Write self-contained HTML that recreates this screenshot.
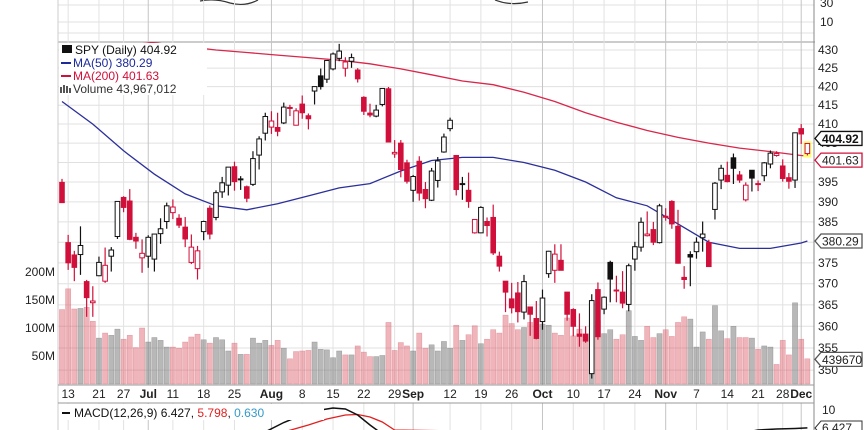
<!DOCTYPE html>
<html><head><meta charset="utf-8"><style>
html,body{margin:0;padding:0;background:#fff;}
svg{display:block;font-family:"Liberation Sans",sans-serif;}
</style></head><body>
<svg id="chart" width="864" height="430" viewBox="0 0 864 430"></svg>
<script>
const opens=[394.9,379.9,376.9,377.0,370.5,365.5,371.9,370.6,376.6,381.4,391.1,390.2,381.2,376.2,376.6,375.9,382.1,385.1,387.3,385.9,383.7,375.1,373.6,382.6,388.4,386.1,392.5,394.2,398.9,395.8,393.8,394.4,401.9,407.6,409.2,409.1,410.3,414.4,409.7,415.3,412.2,418.8,422.9,422.0,424.8,427.7,425.0,426.9,424.5,417.1,412.9,412.1,415.2,419.4,402.2,405.0,399.9,392.9,400.3,393.1,390.4,395.4,402.7,408.8,401.8,394.5,392.9,382.3,382.3,385.1,386.1,376.6,370.6,366.4,367.8,363.3,364.5,361.8,361.1,372.4,373.2,375.6,368.0,363.9,358.2,358.2,349.2,368.6,364.0,375.1,368.4,368.0,365.1,375.9,378.8,381.6,383.1,379.9,386.4,390.1,383.9,371.5,377.0,377.7,381.1,379.9,388.1,395.5,396.7,401.2,396.8,390.5,398.0,394.6,396.6,399.6,401.8,399.1,396.1,395.5,408.8,402.3];
const highs=[395.8,381.8,377.9,383.9,370.9,369.4,376.5,378.7,378.8,390.1,391.4,393.2,382.3,380.7,381.7,382.0,385.9,389.8,390.6,386.9,386.2,381.9,379.1,385.3,389.1,392.9,396.3,398.8,400.2,396.5,394.1,402.9,406.8,413.0,413.4,413.0,415.7,415.1,414.2,417.6,412.8,420.0,424.9,427.2,429.3,431.7,428.0,429.0,425.0,417.4,415.4,415.1,419.6,419.9,405.8,405.8,400.7,396.8,401.6,395.0,398.6,401.4,407.5,411.7,401.9,396.3,397.4,385.6,388.9,386.1,389.3,377.7,370.6,370.2,370.4,372.1,364.6,365.9,368.6,377.9,379.5,379.5,368.0,364.2,363.0,360.0,367.5,370.3,367.0,375.5,371.9,373.0,374.8,380.1,386.1,387.6,385.0,389.5,388.4,390.4,388.0,374.2,377.8,381.2,385.1,380.6,395.0,399.4,400.2,402.3,397.8,394.9,398.0,395.4,400.1,403.1,402.9,400.8,397.3,407.7,410.0,405.0];
const lows=[389.8,373.3,370.6,372.1,362.2,362.2,371.8,370.2,372.9,380.8,387.4,380.5,378.4,372.6,373.8,372.9,379.6,383.3,385.7,383.5,378.8,374.7,371.0,380.5,380.7,385.4,391.0,391.6,392.8,393.0,389.9,394.0,398.2,405.7,407.4,406.8,410.0,412.1,409.6,411.4,408.6,415.2,419.2,421.0,424.4,426.9,422.7,425.1,421.1,412.4,411.8,411.8,414.7,405.3,401.2,396.2,394.6,390.0,390.3,388.4,390.2,393.6,402.5,408.1,391.6,390.5,388.5,382.1,382.2,381.4,376.9,372.9,363.3,363.0,360.9,361.6,357.8,357.0,359.2,371.4,370.2,373.2,361.3,357.7,355.3,356.2,348.1,356.9,362.8,365.6,365.6,364.2,363.5,373.1,377.7,381.4,379.3,379.7,385.3,383.3,374.8,368.8,369.4,376.0,377.7,374.0,385.6,393.2,394.9,394.5,394.8,390.1,392.6,392.7,395.2,398.5,401.5,395.1,393.3,393.5,404.8,401.8];
const closes=[389.8,375.0,373.9,379.2,366.7,365.9,375.1,374.4,378.1,390.1,388.6,380.7,380.3,377.3,381.2,382.0,383.3,389.0,388.7,384.2,380.8,378.8,377.9,385.1,382.0,392.3,394.8,398.8,395.1,395.6,390.9,401.0,406.1,412.0,410.8,408.1,414.5,414.2,413.5,413.0,411.4,420.0,420.0,427.1,428.9,429.7,426.7,427.9,422.1,413.4,412.4,413.7,419.5,405.3,402.6,398.2,395.2,396.4,392.2,390.8,397.8,400.4,406.6,411.0,393.1,394.6,390.1,385.6,388.6,384.1,377.4,374.2,368.0,364.3,363.4,370.5,362.8,357.2,366.6,377.8,377.1,373.2,362.8,360.0,357.7,356.6,366.0,357.6,366.8,371.1,368.5,365.4,374.3,378.9,384.9,382.0,380.0,389.0,386.2,384.5,374.9,371.0,376.4,380.0,382.0,374.1,394.7,398.5,395.1,398.5,395.5,394.2,396.0,394.6,399.9,402.4,402.3,395.9,395.2,407.7,407.4,404.92];
const prevClose=401.1;
const volumes=[133,170,134,135,137,112,82,91,87,98,80,87,65,100,75,83,78,66,66,64,75,84,89,79,73,83,79,59,73,53,53,82,73,78,69,78,64,45,58,59,60,75,62,61,47,59,52,52,68,57,49,49,51,110,60,74,68,59,91,64,70,59,76,64,105,78,88,104,72,80,97,91,123,108,97,101,110,106,107,105,91,87,118,86,98,84,145,113,90,97,80,88,131,85,78,103,83,90,97,85,110,120,116,66,93,80,140,95,81,103,83,83,82,62,68,66,35,78,52,145,80,45];
const maIdx=[0,5,10,15,20,25,30,35,40,45,50,55,60,65,70,75,80,85,90,95,100,105,110,115,120,121];
const ma50=[416,410,403,397,392,389,388,389.5,391.5,393.5,394.6,397.8,400.5,401.3,401.3,400,398,395,391,389,384.5,380,378.5,378.5,379.8,380.29];
const ma200=[436,434.5,433,432,431,430,429.3,428.6,427.9,427.2,426.2,424.8,423.2,421.5,420.5,418.5,416,413,410.5,408.3,406.5,405,403.7,402.8,401.8,401.63];
const macdIdx=[32,36,39,42,44,46,48,50,52,110,113,116,119,121];
const macdVals=[5.0,7.5,9.0,10.0,10.4,10.2,9.0,7.0,5.2,5.3,6.0,6.2,6.3,6.427];
const sigIdx=[36,40,43,46,48,50,52,54,110,113,116,119,121];
const sigVals=[5.6,7.0,8.2,9.0,9.1,8.6,7.6,6.0,5.0,5.4,5.6,5.7,5.798];
const priceTicks=[430,425,420,415,410,405,400,395,390,385,380,375,370,365,360,355,350];
const volTicks=[200,150,100,50];
const volTickLabels=["200M","150M","100M","50M"];
const dateIdx=[1,6,10,14,18,23,28,34,39,44,49,54,57,63,68,73,78,83,88,93,98,103,108,113,117,120];
const dateLabels=["13","21","27","Jul","11","18","25","Aug","8","15","22","29","Sep","12","19","26","Oct","10","17","24","Nov","7","14","21","28","Dec"];
const monthFlags=[0,0,0,1,0,0,0,1,0,0,0,0,1,0,0,0,1,0,0,0,1,0,0,0,0,1];

const NS="http://www.w3.org/2000/svg";
const svgRoot=document.getElementById('chart');
const X0=58,X1=814;
function xs(i){return 62+i*6.16;}
function yp(p){return 50+Math.log(430/p)*1555;}
function yv(v){return 384-v*0.56;}
function ym(m){return 410+(10-m)*5;}
function mk(tag,attrs,parent){const e=document.createElementNS(NS,tag);for(const k in attrs)e.setAttribute(k,attrs[k]);(parent||svgRoot).appendChild(e);return e;}
function prevOf(i){return i>0?closes[i-1]:prevClose;}

const defs=mk('defs',{});
const cp=mk('clipPath',{id:'mainclip'},defs);mk('rect',{x:X0,y:42,width:X1-X0,height:343},cp);
const cp2=mk('clipPath',{id:'macdclip'},defs);mk('rect',{x:X0,y:403,width:X1-X0,height:27},cp2);

const topPanel=mk('g',{});


[5,22,33].forEach(y=>mk('line',{x1:X0,x2:X1,y1:y,y2:y,stroke:'#e2e2e2'},topPanel));
mk('path',{d:'M200,1 Q215,-2 230,3 Q245,7 258,0 M495,0 Q510,6 528,2',fill:'none',stroke:'#333','stroke-width':1.2},topPanel);
const t30=mk('text',{x:820,y:7,'font-size':12,fill:'#222'},topPanel);t30.textContent='30';
const t10=mk('text',{x:820,y:26,'font-size':12,fill:'#222'},topPanel);t10.textContent='10';
mk('line',{x1:X0,x2:X1+1,y1:42,y2:42,stroke:'#999'},topPanel);

const grid=mk('g',{});


priceTicks.forEach(p=>{mk('line',{x1:X0,x2:X1,y1:yp(p),y2:yp(p),stroke:'#e0e0e0'},grid);});
dateIdx.forEach((d,k)=>{const x=xs(d);const c=monthFlags[k]?'#c4c4c4':'#e2e2e2';
 mk('line',{x1:x,x2:x,y1:0,y2:42,stroke:c},grid);
 mk('line',{x1:x,x2:x,y1:42,y2:385,stroke:c},grid);
 mk('line',{x1:x,x2:x,y1:403,y2:430,stroke:c},grid);});
mk('line',{x1:X0,x2:X0,y1:0,y2:430,stroke:'#ccc'},grid);
mk('line',{x1:X1,x2:X1,y1:0,y2:430,stroke:'#888'},grid);
mk('line',{x1:X0,x2:X1,y1:385,y2:385,stroke:'#999'},grid);
mk('line',{x1:X0,x2:X1,y1:403,y2:403,stroke:'#999'},grid);

const vg=mk('g',{'clip-path':'url(#mainclip)'});


volumes.forEach((v,i)=>{const down=closes[i]<prevOf(i);
 const r=mk('rect',{x:xs(i)-2.6,y:yv(v),width:5.2,height:384-yv(v),fill:down?'rgba(220,90,105,0.45)':'rgba(125,125,125,0.55)',stroke:down?'rgba(210,90,100,0.5)':'rgba(120,120,120,0.6)','stroke-width':0.5},vg);
 
 });

function linePath(idx,vals,fy){return idx.map((d,k)=>(k?'L':'M')+xs(d).toFixed(1)+','+fy(vals[k]).toFixed(1)).join(' ');}
const m200=mk('path',{d:linePath(maIdx,ma200,yp),fill:'none',stroke:'#d9264a','stroke-width':1.3,'clip-path':'url(#mainclip)'});


const m50=mk('path',{d:linePath(maIdx,ma50,yp),fill:'none',stroke:'#2b2f9a','stroke-width':1.3,'clip-path':'url(#mainclip)'});



const cg=mk('g',{'clip-path':'url(#mainclip)'});


const lastI=closes.length-1;
mk('rect',{x:xs(lastI)-4,y:yp(highs[lastI])-2,width:8,height:yp(lows[lastI])-yp(highs[lastI])+4,fill:'#ffff70'},cg);
closes.forEach((c,i)=>{const o=opens[i];const down=c<prevOf(i);const col=down?'#d0103a':'#111';
 const g=mk('g',{},cg);
 
 
 const x=xs(i);
 mk('line',{x1:x,x2:x,y1:yp(highs[i]),y2:yp(lows[i]),stroke:col,'stroke-width':1.2},g);
 const yt=yp(Math.max(o,c)),yb=yp(Math.min(o,c));
 mk('rect',{x:x-2.3,y:yt,width:4.6,height:Math.max(1,yb-yt),fill:c>=o?'#fff':col,stroke:col,'stroke-width':1},g);});

const lg=mk('g',{});


mk('rect',{x:59,y:43,width:148,height:52,fill:'#fff'},lg);
const leg=[["SPY (Daily) 404.92","#111",54],["MA(50) 380.29","#1d2a9a",67],["MA(200) 401.63","#d0103a",80],["Volume 43,967,012","#333",93]];
leg.forEach((l,k)=>{const t=mk('text',{x:k==0?75:73,y:l[2],'font-size':12,fill:l[1]},lg);t.textContent=l[0];
 
 });
mk('rect',{x:62,y:45,width:10,height:8,fill:'#111'},lg);
mk('line',{x1:61,x2:71,y1:63,y2:63,stroke:'#1d2a9a','stroke-width':2},lg);
mk('line',{x1:61,x2:71,y1:76,y2:76,stroke:'#d0103a','stroke-width':2},lg);
mk('path',{d:'M61,93V87M64,93V85M67,93V86M70,93V88',stroke:'#555','stroke-width':2},lg);

const ra=mk('g',{});


priceTicks.forEach(p=>{const t=mk('text',{x:818,y:yp(p)+4,'font-size':12,fill:'#222'},ra);t.textContent=p;});
function priceTag(y,txt,border,bold,col){mk('path',{d:`M815,${y} L821,${y-7} H862 V${y+7} H821 Z`,fill:'#fff',stroke:border,'stroke-width':1.3},ra);
 const t=mk('text',{x:822,y:y+4.5,'font-size':12,'font-weight':bold?'bold':'normal',fill:col},ra);t.textContent=txt;}
priceTag(yp(380.29),'380.29','#555',false,'#222');
priceTag(yp(404.92)-5,'404.92','#111',true,'#111');
priceTag(yp(401.63)+4,'401.63','#d0103a',false,'#222');
priceTag(yv(44),'439670','#555',false,'#222');

const va=mk('g',{});


volTicks.forEach((v,k)=>{const t=mk('text',{x:55,y:yv(v)+4,'font-size':12,fill:'#222','text-anchor':'end'},va);t.textContent=volTickLabels[k];});

const da=mk('g',{});


dateIdx.forEach((d,k)=>{const t=mk('text',{x:xs(d),y:398,'font-size':12,fill:'#222','text-anchor':'middle','font-weight':monthFlags[k]?'bold':'normal'},da);t.textContent=dateLabels[k];});

const mg=mk('g',{});


const sp=mk('path',{d:linePath(sigIdx,sigVals,ym),fill:'none',stroke:'#e02020','stroke-width':1.3,'clip-path':'url(#macdclip)'},mg);


const mp=mk('path',{d:linePath(macdIdx,macdVals,ym),fill:'none',stroke:'#111','stroke-width':1.5,'clip-path':'url(#macdclip)'},mg);


mk('rect',{x:59,y:404,width:265,height:16,fill:'#fff'},mg);
mk('line',{x1:62,x2:70,y1:413,y2:413,stroke:'#111','stroke-width':2},mg);
const mt=mk('text',{x:74,y:417,'font-size':12,fill:'#111'},mg);


const s1=mk('tspan',{},mt);s1.textContent='MACD(12,26,9) 6.427, ';
const s2=mk('tspan',{fill:'#e02020'},mt);s2.textContent='5.798';
const s3=mk('tspan',{},mt);s3.textContent=', ';
const s4=mk('tspan',{fill:'#3399cc'},mt);s4.textContent='0.630';
const m10=mk('text',{x:822,y:414,'font-size':12,fill:'#222'},mg);m10.textContent='10';
mk('path',{d:'M815,428 L821,421 H862 V435 H821 Z',fill:'#fff',stroke:'#333'},mg);
const m6=mk('text',{x:822,y:432,'font-size':12,fill:'#222'},mg);m6.textContent='6.427';
</script>
</body></html>
